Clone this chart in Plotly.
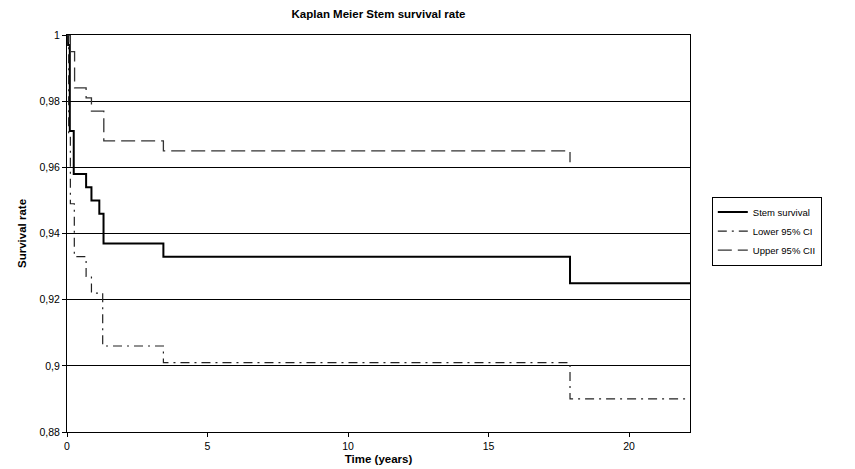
import plotly.graph_objects as go

# Data (time in years, survival fraction)
stem_t = [0, 0.04, 0.10, 0.24, 0.68, 0.87, 1.15, 1.30, 3.43, 17.9, 22.17]
stem_s = [1.0, 0.997, 0.971, 0.958, 0.954, 0.950, 0.946, 0.937, 0.933, 0.925, 0.925]

lower_t = [0, 0.06, 0.12, 0.26, 0.68, 0.87, 1.27, 3.43, 17.9, 22.17]
lower_s = [1.0, 0.970, 0.949, 0.933, 0.927, 0.922, 0.906, 0.901, 0.890, 0.890]

upper_t = [0, 0.12, 0.27, 0.68, 0.87, 1.31, 3.43, 17.9]
upper_s = [1.0, 0.995, 0.984, 0.981, 0.977, 0.968, 0.965, 0.9615]

y_ticks = [0.88, 0.90, 0.92, 0.94, 0.96, 0.98, 1.0]
y_tick_text = ["0,88", "0,9", "0,92", "0,94", "0,96", "0,98", "1"]
x_ticks = [0, 5, 10, 15, 20]

fig = go.Figure()
fig.add_trace(go.Scatter(x=stem_t, y=stem_s, mode="lines", line_shape="hv",
                         name="Stem survival", line=dict(color="black", width=2)))
fig.add_trace(go.Scatter(x=lower_t, y=lower_s, mode="lines", line_shape="hv",
                         name="Lower 95% CI",
                         line=dict(color="#222222", width=1.2, dash="9px,5px,2px,5px")))
fig.add_trace(go.Scatter(x=upper_t, y=upper_s, mode="lines", line_shape="hv",
                         name="Upper 95% CII",
                         line=dict(color="#333333", width=1.3, dash="14px,6px")))

# The page body adds an 8px margin, so the figure is sized to fit the window.
fig.update_layout(
    width=847, height=461,
    margin=dict(l=59, r=165, t=27, b=37),
    paper_bgcolor="white", plot_bgcolor="white",
    font=dict(family="Liberation Sans, Arial, sans-serif", size=11, color="black"),
    title=dict(text="<b>Kaplan Meier Stem survival rate</b>", x=0.5, xref="paper",
               xanchor="center", y=1.0, yanchor="top", pad=dict(t=2, b=0),
               font=dict(size=11.5)),
    showlegend=True,
    legend=dict(x=1.035, xanchor="left", y=0.506, yanchor="middle",
                bordercolor="black", borderwidth=1, bgcolor="white",
                font=dict(size=9.5), tracegroupgap=0),
)
fig.update_xaxes(range=[0, 22.17], tickvals=x_ticks, ticks="outside", ticklen=4,
                 tickcolor="black", showgrid=False, zeroline=False, automargin=False,
                 showline=True, linecolor="black", linewidth=1, mirror=True,
                 title=dict(text="<b>Time (years)</b>", font=dict(size=11.5), standoff=4),
                 tickfont=dict(size=10.5))
fig.update_yaxes(range=[0.88, 1.0], tickvals=y_ticks, ticktext=y_tick_text,
                 ticks="outside", ticklen=4, tickcolor="black", automargin=False,
                 showgrid=True, gridcolor="black", gridwidth=1, zeroline=False,
                 showline=True, linecolor="black", linewidth=1, mirror=True,
                 title=dict(text="<b>Survival rate</b>", font=dict(size=11.5), standoff=10),
                 tickfont=dict(size=10.5))

fig.write_html("out.html")
